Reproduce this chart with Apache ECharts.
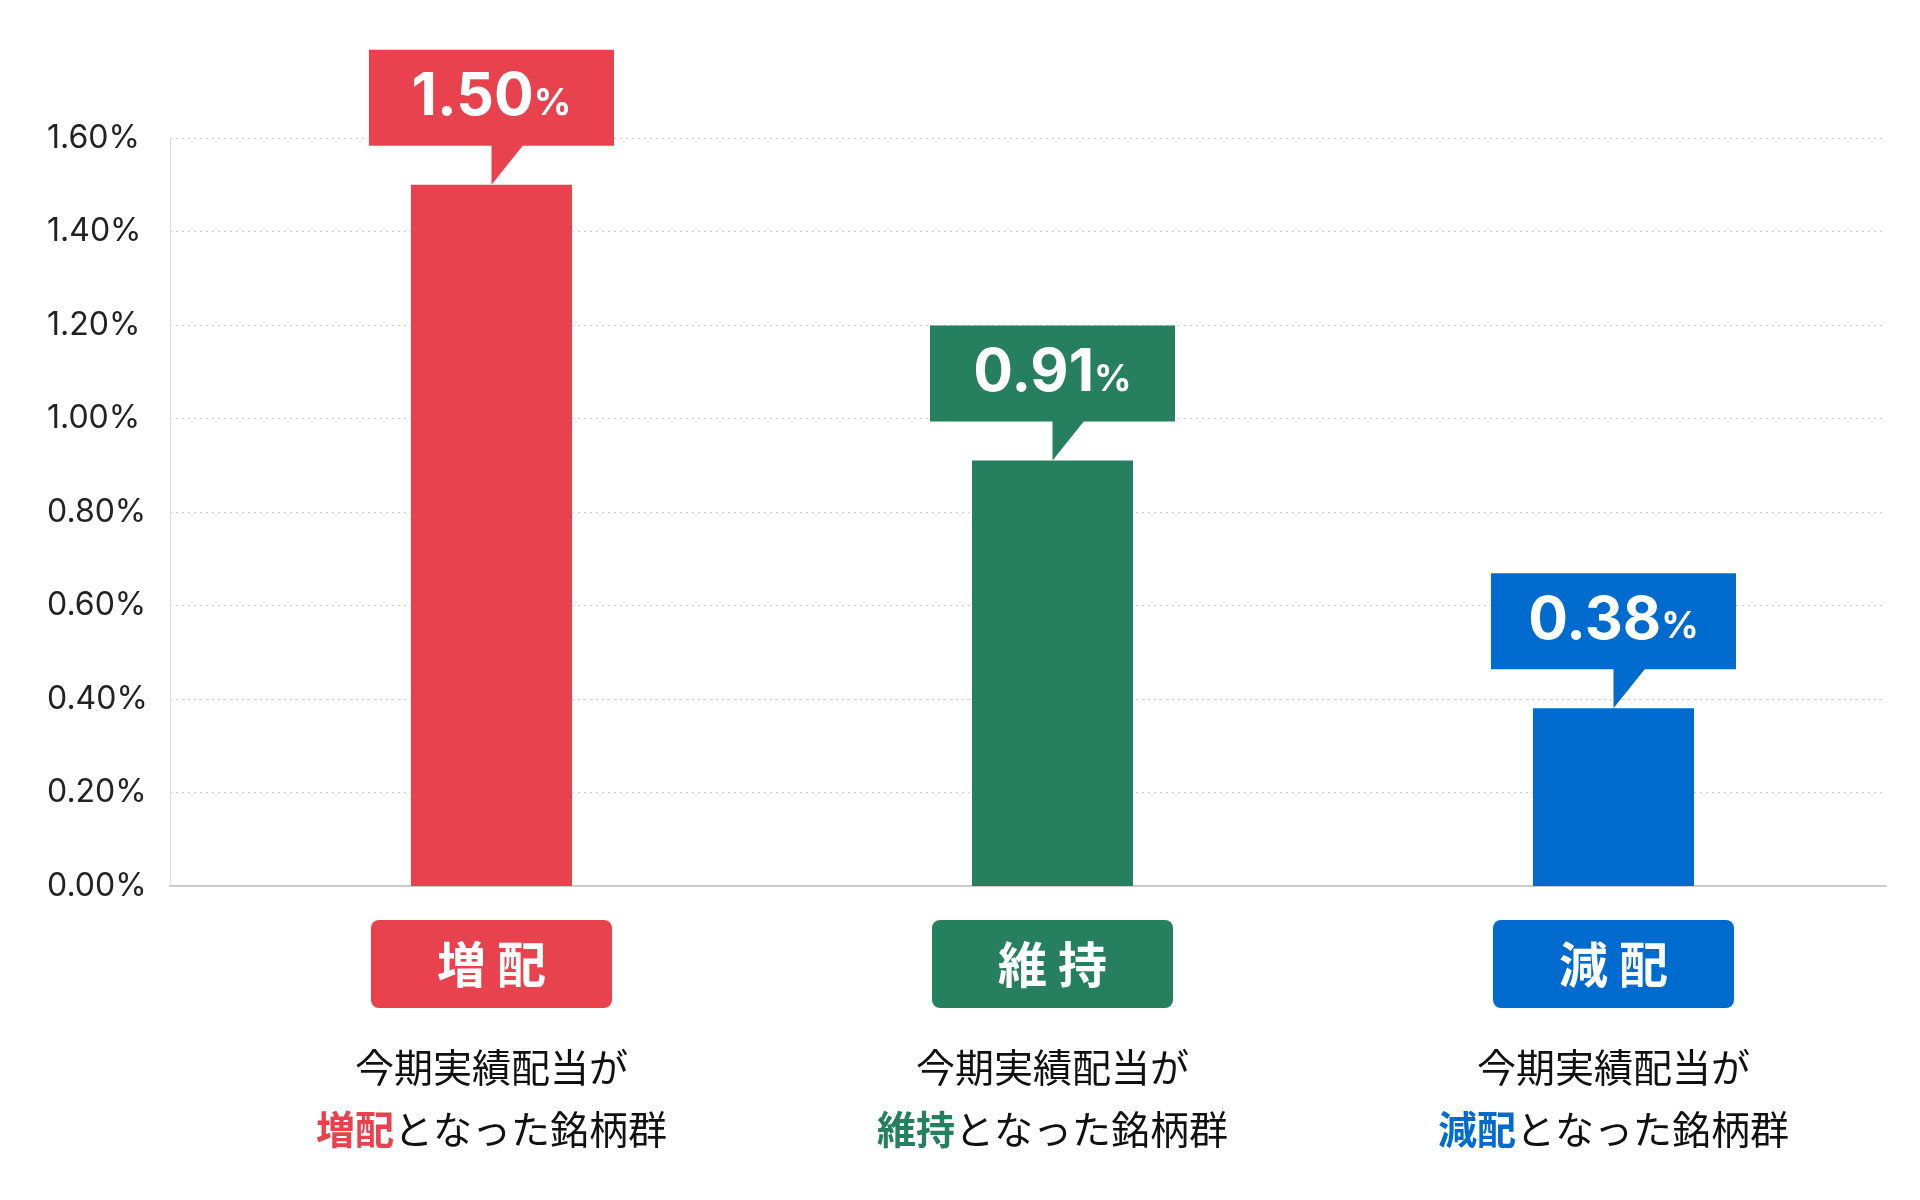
<!DOCTYPE html><html><head><meta charset="utf-8"><script src="https://cdn.jsdelivr.net/npm/echarts@6/dist/echarts.min.js"></script>
<style>html,body{margin:0;background:#fff}#c{width:1920px;height:1200px}</style></head><body><div id="c"></div><script>
const categories=['増配','維持','減配'];
const values=[1.50,0.91,0.38];
const colors=['#E8424F','#268060','#006BCE'];
const yTicks=[0,0.2,0.4,0.6,0.8,1.0,1.2,1.4,1.6];
const F='"Noto Sans CJK JP", sans-serif';
const rich={l1:{fontSize:39,color:'#111',lineHeight:62,fontFamily:F},sp:{lineHeight:28,fontSize:10}};
colors.forEach((c,i)=>{
 rich['b'+i]={backgroundColor:c,color:'#fff',fontSize:49,fontWeight:'bold',width:241,height:88,lineHeight:88,align:'center',borderRadius:8,fontFamily:F};
 rich['h'+i]={fontSize:39,color:c,fontWeight:'bold',lineHeight:62,fontFamily:F};
});
const chart=echarts.init(document.getElementById('c'));
chart.setOption({
 animation:false,
 grid:[{left:170,right:34,top:138,bottom:314},{left:211,right:26,top:138,bottom:314}],
 xAxis:[{type:'category',gridIndex:0,data:categories,axisLine:{lineStyle:{color:'#ccc',width:2}},axisTick:{show:false},axisLabel:{show:false}},
  {type:'category',gridIndex:1,data:categories,axisLine:{show:false},axisTick:{show:false},
   axisLabel:{margin:34,interval:0,rich:rich,formatter:(v,i)=>`{b${i}|${v.split('').join(' ')}}\n{sp| }\n{l1|今期実績配当が}\n{h${i}|${v}}{l1|となった銘柄群}`}}],
 yAxis:[{type:'value',gridIndex:0,min:0,max:1.6,interval:0.2,
   axisLine:{show:true,lineStyle:{color:'#ddd'}},axisTick:{show:false},
   splitLine:{lineStyle:{type:[2,4],color:'#ccc'}},
   axisLabel:{align:'left',margin:123,fontSize:32,color:'#222',fontFamily:'Inter, sans-serif',formatter:v=>yTicks.find(t=>Math.abs(t-v)<1e-6).toFixed(2)+'%'}},
  {type:'value',gridIndex:1,min:0,max:1.6,show:false}],
 series:[{type:'bar',xAxisIndex:1,yAxisIndex:1,barWidth:161,
   data:values.map((v,i)=>({value:v,itemStyle:{color:colors[i]},label:{backgroundColor:colors[i]}})),
   label:{show:true,position:'top',distance:39,width:245,height:96,lineHeight:96,align:'center',
    formatter:p=>`{v|${p.value.toFixed(2)}}{p|%}`,
    rich:{v:{fontSize:59,fontWeight:'bold',color:'#fff',fontFamily:'Inter, sans-serif'},p:{fontSize:37,fontWeight:'bold',color:'#fff',fontFamily:'Inter, sans-serif',padding:[12,0,0,0]}}}},
  {type:'scatter',xAxisIndex:1,yAxisIndex:1,symbol:'path://M0,0 L26,0 L0,32 Z',symbolSize:[32,40],symbolOffset:[16,-20],silent:true,z:5,
   data:values.map((v,i)=>({value:[i,v],itemStyle:{color:colors[i],opacity:1}}))}]
});
</script></body></html>
